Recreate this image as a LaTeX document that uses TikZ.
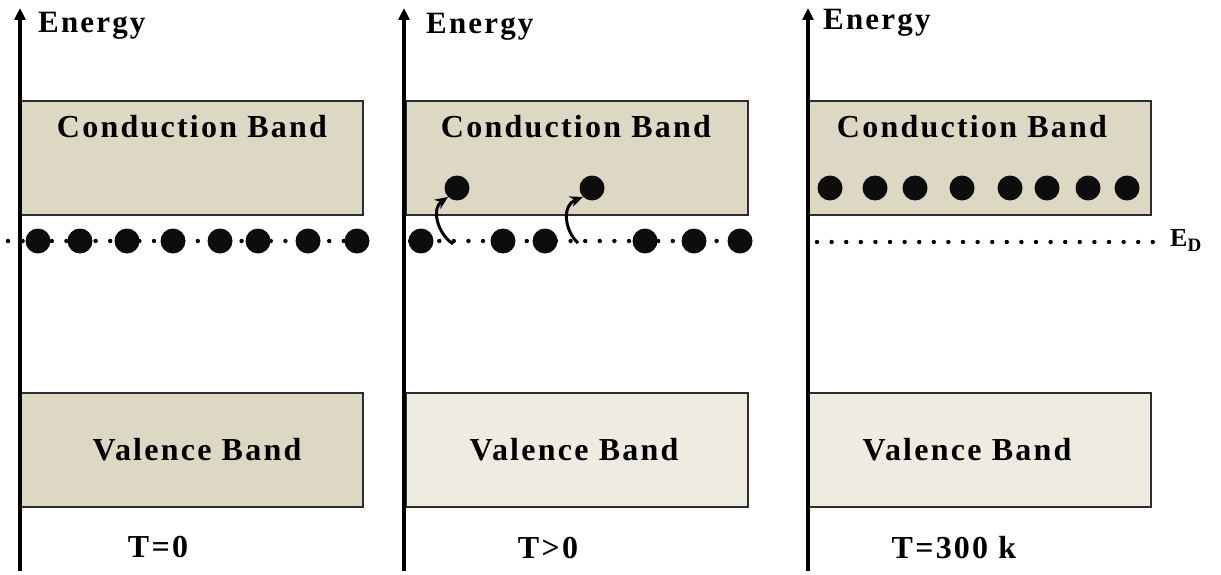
\documentclass[tikz,border=0pt]{standalone}
\usepackage{fontspec}
\setmainfont{Liberation Serif}[BoldFont={Liberation Serif Bold}]
\newfontfamily\bandfont{Liberation Serif Bold}[LetterSpace=7]
\usetikzlibrary{arrows.meta}
\definecolor{bandfill}{RGB}{221,216,196}
\definecolor{bandlight}{RGB}{238,235,225}
\definecolor{bandline}{RGB}{45,45,45}
\begin{document}
\begin{tikzpicture}[x=1pt,y=-1pt,
  band/.style={draw=bandline, line width=1.8pt, minimum width=342pt,
    minimum height=114pt, inner sep=0pt, anchor=north west},
  axis/.style={line width=3.6pt, -{Triangle[length=12pt,width=11pt]}},
  lbl/.style={font=\bandfont\fontsize{32}{38}\selectfont, inner sep=0pt, anchor=base},
  ylbl/.style={font=\bandfont\fontsize{31}{36}\selectfont, inner sep=0pt, anchor=base west},
  electron/.style={circle, fill=black!95, minimum size=25pt, inner sep=0pt},
  level/.style={line width=4.4pt, line cap=round, dash pattern=on 0pt off 14.6pt},
  hop/.style={line width=3pt, -{Stealth[length=13pt,width=11pt]}}
]
\useasboundingbox (0,0) rectangle (1221,575);

% ---- bands ----
\node[band, fill=bandfill]  (cb1) at (20,100) {};
\node[band, fill=bandfill]  (vb1) at (20,392) {};
\node[band, fill=bandfill]  (cb2) at (405,100) {};
\node[band, fill=bandlight] (vb2) at (405,392) {};
\node[band, fill=bandfill]  (cb3) at (808,100) {};
\node[band, fill=bandlight] (vb3) at (808,392) {};

% ---- energy axes ----
\coordinate (a1b) at (20,571);  \coordinate (a1t) at (20,8);
\coordinate (a2b) at (404,571); \coordinate (a2t) at (404,8);
\coordinate (a3b) at (808,571); \coordinate (a3t) at (808,8);
\draw[axis] (a1b) -- (a1t);
\draw[axis] (a2b) -- (a2t);
\draw[axis] (a3b) -- (a3t);
\node[ylbl] (en1) at (38,33)  {Energy};
\node[ylbl] (en2) at (426,34) {Energy};
\node[ylbl] (en3) at (823,30) {Energy};

% ---- band labels ----
\node[lbl] (cbt1) at (192,138) {Conduction Band};
\node[lbl] (cbt2) at (576,138) {Conduction Band};
\node[lbl] (cbt3) at (972,138) {Conduction Band};
\node[lbl] (vbt1) at (197,460) {Valence Band};
\node[lbl] (vbt2) at (574,460) {Valence Band};
\node[lbl] (vbt3) at (967,460) {Valence Band};

% ---- temperatures ----
\node[lbl] (t1) at (158,557) {T=0};
\node[lbl] (t2) at (548,558) {T>0};
\node[lbl] (t3) at (954,558) {T=300 k};

% ---- donor levels ----
\coordinate (l1a) at (8,241);   \coordinate (l1b) at (366,241);
\coordinate (l2a) at (410,241); \coordinate (l2b) at (752,241);
\coordinate (l3a) at (817,242); \coordinate (l3b) at (1155,242);
\draw[level] (l1a) -- (l1b);
\draw[level] (l2a) -- (l2b);
\draw[level] (l3a) -- (l3b);
\node[inner sep=0pt, anchor=base west, font=\bandfont\fontsize{26}{30}\selectfont] (ed)
  at (1170,246) {E\raisebox{-5pt}{\fontsize{19}{22}\selectfont D}};

% ---- electrons on the donor level ----
\foreach \x [count=\i] in {38,80,127,173,220,258,308,357}
  \node[electron] (p\i) at (\x,241) {};
\foreach \x [count=\i] in {421,503,545,645,694,740}
  \node[electron] (q\i) at (\x,241) {};

% ---- electrons in the conduction band ----
\node[electron] (e1) at (457,188) {};
\node[electron] (e2) at (592,188) {};
\foreach \x [count=\i] in {830,875,915,962,1010,1047,1088,1127}
  \node[electron] (r\i) at (\x,188) {};

% ---- thermal excitation ----
\coordinate (h1) at (453,244);
\coordinate (h2) at (578,243);
\draw[hop] (h1) .. controls (436,232) and (432,208) .. (e1.south west);
\draw[hop] (h2) .. controls (564,230) and (562,205) .. (e2.south west);
\end{tikzpicture}
\end{document}
